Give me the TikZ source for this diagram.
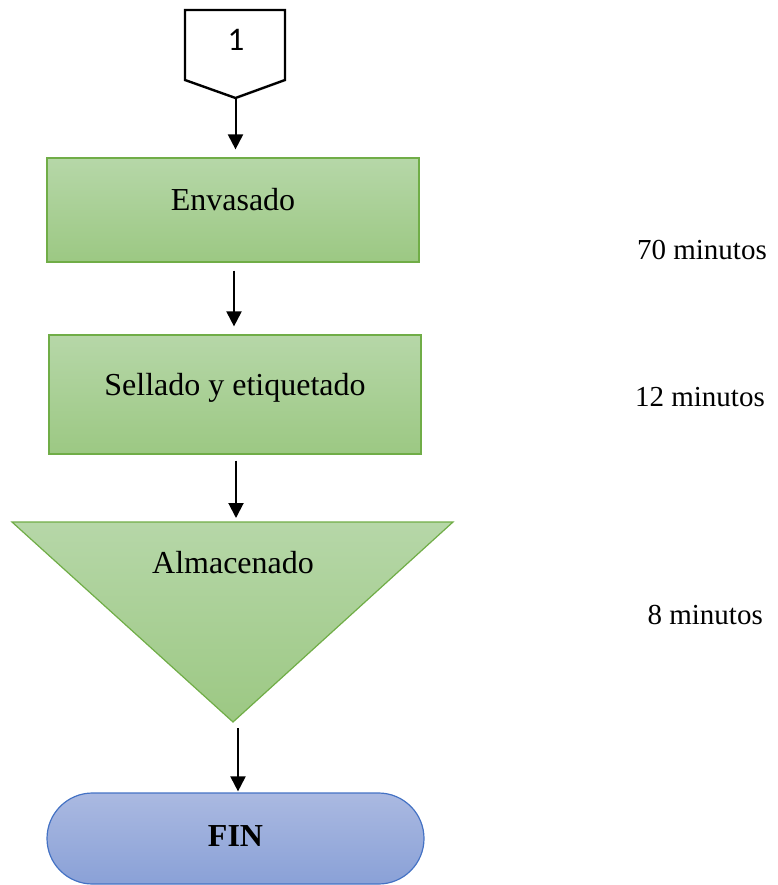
\documentclass[tikz,border=0pt]{standalone}
\usepackage{fontspec}
\setmainfont{Liberation Serif}
\newfontfamily\calfont{Carlito}
\usetikzlibrary{arrows.meta,shapes.misc}

\definecolor{gtop}{HTML}{B6D7A8}
\definecolor{gbot}{HTML}{9CC883}
\definecolor{gline}{HTML}{70AD47}
\definecolor{btop}{HTML}{AAB9E1}
\definecolor{bbot}{HTML}{8AA1D7}
\definecolor{bline}{HTML}{4472C4}

\tikzset{
  greenfill/.style={top color=gtop, bottom color=gbot, draw=gline, line width=1.2pt},
  stepbox/.style={greenfill, rectangle, inner sep=0pt},
  endbox/.style={rounded rectangle, inner sep=0pt, top color=btop, bottom color=bbot,
                 draw=bline, line width=1.2pt},
  lbl/.style={font=\fontsize{32}{38}\selectfont, inner sep=0pt, anchor=base},
  timelbl/.style={font=\fontsize{29}{35}\selectfont, inner sep=0pt, anchor=base east},
  arr/.style={line width=2pt, -{Triangle[length=15pt,width=15pt]}},
}

\begin{document}
\begin{tikzpicture}[x=1pt,y=-1pt]
\useasboundingbox (0,0) rectangle (777,885);

% off-page connector
\draw[line width=2.4pt, line join=miter, fill=white]
  (185,10) -- (285,10) -- (285,80) -- (235.5,98) -- (185,80) -- cycle;
\coordinate (offtip) at (235.5,98);
\node[inner sep=0pt, anchor=base, font=\calfont\fontsize{33}{40}\selectfont] (offnum) at (236,51) {1};

% process steps
\node[stepbox, minimum width=372pt, minimum height=104pt] (env) at (233,210) {};
\node[lbl] (envtxt) at (233,211) {Envasado};

\node[stepbox, minimum width=372pt, minimum height=119pt] (sel) at (235,394.5) {};
\node[lbl] (seltxt) at (235,395) {Sellado y etiquetado};

% storage triangle
\draw[greenfill, line join=miter] (12,522) -- (453,522) -- (233,722) -- cycle;
\coordinate (almtop) at (233,522);
\coordinate (almtip) at (233,722);
\node[lbl] (almtxt) at (233,573) {Almacenado};

% terminator
\node[endbox, minimum width=377pt, minimum height=91pt] (fin) at (235.5,838.5) {};
\node[lbl, font=\bfseries\fontsize{32}{38}\selectfont] (fintxt) at (235.5,846) {FIN};

% times
\node[timelbl] (t1) at (767,259) {70 minutos};
\node[timelbl] (t2) at (765,406) {12 minutos};
\node[timelbl] (t3) at (763,624) {8 minutos};

% connectors
\draw[arr] (offtip) -- ([yshift=8pt]offtip |- env.north);
\draw[arr, shorten <=8pt] (env.south -| 234,0) -- ([yshift=8pt]234,0 |- sel.north);
\draw[arr, shorten <=6pt] (sel.south -| 236,0) -- ([yshift=4pt]236,0 |- almtop);
\draw[arr, shorten <=6pt] (almtip -| 238,0) -- ([yshift=1pt]238,0 |- fin.north);
\end{tikzpicture}
\end{document}
